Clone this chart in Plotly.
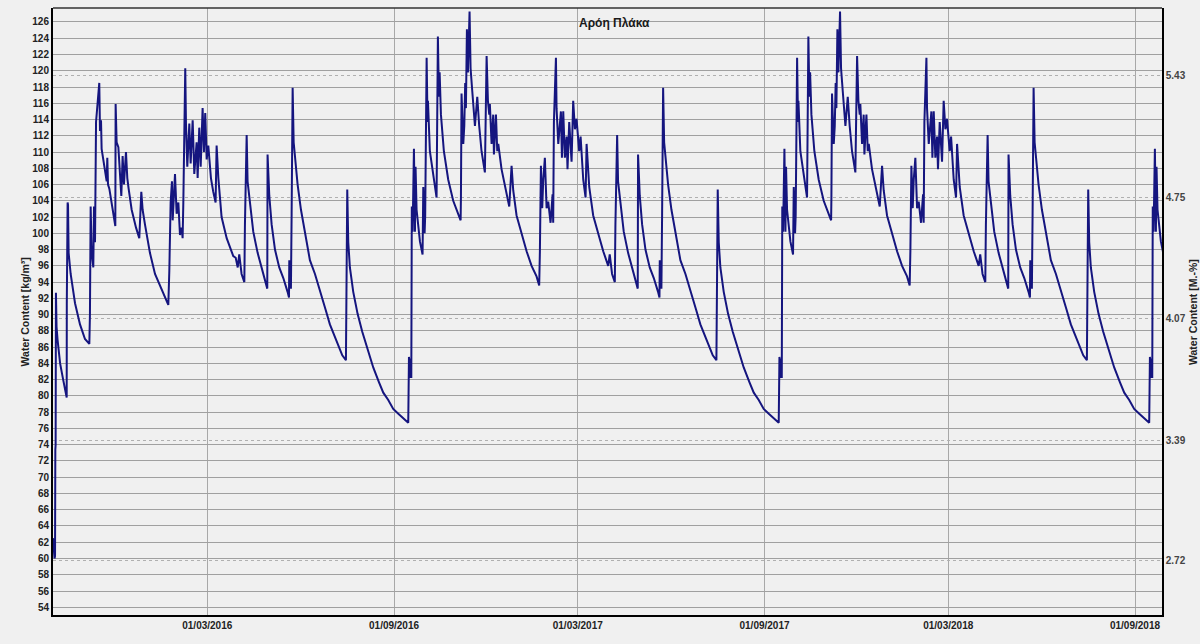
import pandas as pd
import plotly.graph_objects as go

# ---------------- data ----------------
start_date = pd.Timestamp("2015-10-01")
density_factor = 0.04548  # kg/m3 -> M.-%

# days since start_date, water content [kg/m3]
winter_2015_days = [0, 1.5, 2.0, 2.3, 2.6, 2.9, 3.5, 4.5, 7, 10, 13, 13.5,
                    13.6, 14.4, 14.8, 15.4, 17.4, 21.7, 26.6, 31.5, 35.8,
                    36.4, 37.1, 38.1, 39.7, 40.4, 41.4, 42.4, 44.0, 45.6, 46.3, 47.3, 47.9, 50.6, 52.9, 53.5, 54.2, 55.5, 58.4, 59.4, 61.4,
                    61.7, 62.7, 64.4, 65.3, 67.3, 68.6, 69.9, 71.9, 73.2, 74.5,
                    77.5, 81.8, 85.0, 87.0, 88.3, 90.6,
                    95.5, 100.5, 105.4, 110.3, 113.6,
                    114.6, 115.9, 117.2, 117.9, 120.2, 121.8, 123.5, 125.1, 126.7, 127.7, 128.4, 129.4, 130.3, 131.0, 132.3, 134.3, 135.6,
                    137.6, 139.2, 141.5, 142.5, 144.1, 145.5, 147.4, 148.7, 150.0, 151.4, 153.0, 155.6, 157.9, 160.2, 161.2, 162.9,
                    166.1, 171.1, 177.6, 180.0, 182.0]
winter_2015_vals = [62.5, 60.0, 60.3, 73.4, 74.0, 92.7, 88.5, 86.9, 84.0, 82.0, 80.0, 79.8,
                    91.4, 103.8, 103.5, 97.6, 95.0, 91.4, 88.8, 87.0, 86.4,
                    90.1, 103.3, 97.6, 95.8, 103.3, 98.9, 113.7, 116.0, 118.5, 112.6, 113.9, 110.4, 108.2, 106.4, 109.3, 106.0, 105.5, 103.3, 102.4, 100.9,
                    115.9, 111.2, 110.6, 108.2, 104.6, 109.5, 106.0, 110.0, 106.8, 105.5,
                    102.9, 100.7, 99.4, 105.1, 102.9, 101.1,
                    97.6, 95.0, 93.6, 92.3, 91.2,
                    95.4, 103.8, 106.4, 101.6, 107.3, 102.4, 103.8, 99.8, 100.7, 99.4, 103.8, 112.1, 120.3, 113.5, 108.2, 113.5, 108.6,
                    113.9, 107.3, 111.2, 106.8, 113.0, 108.2, 115.4, 110.0, 114.8, 109.1, 110.8, 106.8, 105.1, 103.8, 110.8, 106.8,
                    102.0, 99.4, 97.2, 97.0, 95.8]

spring_2016_days = [183.5, 185.8, 188.5, 189.1, 190.1, 190.8, 191.7, 194.0, 197.3, 201.6, 205.5, 209.5, 211.1,
                    211.4, 213.1, 215.4, 218.7, 222.9, 226.9, 231.1, 232.5,
                    232.8, 234.4, 235.1, 236.1, 237.1, 238.4, 241.0, 244.3, 248.2, 253.1, 258.1, 263.0, 268.6, 272.8, 276.8, 281.1, 285.0, 288.6,
                    289.3, 289.9, 290.9, 292.5, 295.8, 300.1, 304.7, 310.0, 315.5, 321.1, 325.4, 330.3, 335.2, 340.2, 345.1, 350.0]
spring_2016_vals = [97.4, 95.0, 94.0, 101.1, 109.5, 112.1, 106.4, 103.8, 100.2, 97.6, 95.8, 94.1, 93.2,
                    109.7, 104.6, 101.1, 98.0, 95.8, 94.5, 92.8, 92.1,
                    96.7, 93.2, 102.4, 117.9, 111.2, 109.1, 106.0, 102.9, 100.2, 96.7, 95.0, 92.8, 90.6, 88.8, 87.5, 86.1, 85.0, 84.4,
                    98.4, 105.4, 98.9, 95.8, 92.8, 90.1, 87.9, 85.7, 83.5, 81.7, 80.4, 79.5, 78.4, 77.8, 77.3, 76.7]

winter_2016_days = [350.7, 351.5, 352.3, 353.0, 353.5, 354.3, 355.6, 356.6, 357.2, 358.2, 361.5, 364.1,
                    364.8, 366.1, 366.7, 368.1, 369.0, 369.4, 371.3, 374.0, 377.9, 379.2, 380.2, 380.9, 382.2, 385.1, 389.4, 394.3, 399.3, 401.6,
                    401.9, 402.5, 404.2, 405.2, 406.1, 406.8, 407.8, 408.8, 410.4, 411.4, 413.0, 415.7, 418.0, 419.0, 419.9, 422.2, 425.5,
                    427.2, 428.5, 429.8, 430.4, 432.1, 433.7, 434.4, 436.4, 437.7, 438.7,
                    441.9, 446.2, 449.5, 451.8, 453.4, 456.7, 461.6, 466.6, 471.5, 476.4, 479.0,
                    479.7, 480.7, 482.0, 483.0, 484.6, 486.3, 487.9, 490.2, 492.2, 492.8, 493.5, 494.5, 495.5, 496.1, 497.8,
                    500.4, 501.4, 502.7, 504.3, 506.0, 506.9, 508.6, 510.9, 512.5, 514.2, 515.8, 518.4, 519.8, 522.4, 524.7, 525.7,
                    528.3, 532.2, 537.1, 542.1, 547.0]
winter_2016_vals = [84.8, 82.2, 84.6, 82.2, 103.3, 100.2, 110.4, 100.2, 108.2, 102.9, 99.0, 97.4,
                    105.7, 100.0, 102.2, 121.6, 113.7, 116.3, 110.1, 107.9, 104.4, 124.2, 116.8, 119.8, 114.6, 110.1, 106.6, 104.0, 102.2, 101.6,
                    104.4, 117.2, 111.0, 113.2, 118.5, 115.4, 125.1, 119.8, 127.3, 120.3, 117.6, 113.2, 116.8, 114.1, 113.2, 110.1, 107.5,
                    121.8, 116.3, 114.6, 115.9, 111.0, 114.6, 109.7, 114.6, 110.1, 111.0,
                    107.9, 105.3, 103.3, 108.3, 105.3, 102.2, 100.0, 97.8, 96.0, 94.7, 93.6,
                    97.8, 108.3, 103.1, 106.6, 109.3, 103.1, 103.9, 101.3, 104.8, 101.3, 113.7, 117.6, 121.6, 115.4, 111.0,
                    115.0, 109.3, 115.0, 109.3, 111.9, 107.9, 113.7, 108.8, 116.3, 112.8, 114.1, 110.1, 111.9, 106.6, 104.4, 111.0,
                    105.7, 102.2, 100.0, 97.8, 96.0]

spring_2017_days = [548.5, 550.8, 553.5, 554.1, 555.1, 555.8, 556.7, 559.0, 562.3, 566.6, 570.5, 574.5, 576.1,
                    576.4, 578.1, 580.4, 583.7, 587.9, 591.9, 596.1, 597.5,
                    597.8, 599.4, 600.1, 601.1, 602.1, 603.4, 606.0, 609.3, 613.2, 618.1, 623.1, 628.0, 633.6, 637.8, 641.8, 646.1, 650.0, 653.6,
                    654.3, 654.9, 655.9, 657.5, 660.8, 665.1, 669.7, 675.0, 680.5, 686.1, 690.4, 695.3, 700.2, 705.2, 710.1, 715.0]
spring_2017_vals = [97.4, 95.0, 94.0, 101.1, 109.5, 112.1, 106.4, 103.8, 100.2, 97.6, 95.8, 94.1, 93.2,
                    109.7, 104.6, 101.1, 98.0, 95.8, 94.5, 92.8, 92.1,
                    96.7, 93.2, 102.4, 117.9, 111.2, 109.1, 106.0, 102.9, 100.2, 96.7, 95.0, 92.8, 90.6, 88.8, 87.5, 86.1, 85.0, 84.4,
                    98.4, 105.4, 98.9, 95.8, 92.8, 90.1, 87.9, 85.7, 83.5, 81.7, 80.4, 79.5, 78.4, 77.8, 77.3, 76.7]

winter_2017_days = [715.7, 716.5, 717.3, 718.0, 718.5, 719.3, 720.6, 721.6, 722.2, 723.2, 726.5, 729.1,
                    729.8, 731.1, 731.7, 733.1, 734.0, 734.4, 736.3, 739.0, 742.9, 744.2, 745.2, 745.9, 747.2, 750.1, 754.4, 759.3, 764.3, 766.6,
                    766.9, 767.5, 769.2, 770.2, 771.1, 771.8, 772.8, 773.8, 775.4, 776.4, 778.0, 780.7, 783.0, 784.0, 784.9, 787.2, 790.5,
                    792.2, 793.5, 794.8, 795.4, 797.1, 798.7, 799.4, 801.4, 802.7, 803.7,
                    806.9, 811.2, 814.5, 816.8, 818.4, 821.7, 826.6, 831.6, 836.5, 841.4, 844.0,
                    844.7, 845.7, 847.0, 848.0, 849.6, 851.3, 852.9, 855.2, 857.2, 857.8, 858.5, 859.5, 860.5, 861.1, 862.8,
                    865.4, 866.4, 867.7, 869.3, 871.0, 871.9, 873.6, 875.9, 877.5, 879.2, 880.8, 883.4, 884.8, 887.4, 889.7, 890.7,
                    893.3, 897.2, 902.1, 907.1, 912.0]
winter_2017_vals = [84.8, 82.2, 84.6, 82.2, 103.3, 100.2, 110.4, 100.2, 108.2, 102.9, 99.0, 97.4,
                    105.7, 100.0, 102.2, 121.6, 113.7, 116.3, 110.1, 107.9, 104.4, 124.2, 116.8, 119.8, 114.6, 110.1, 106.6, 104.0, 102.2, 101.6,
                    104.4, 117.2, 111.0, 113.2, 118.5, 115.4, 125.1, 119.8, 127.3, 120.3, 117.6, 113.2, 116.8, 114.1, 113.2, 110.1, 107.5,
                    121.8, 116.3, 114.6, 115.9, 111.0, 114.6, 109.7, 114.6, 110.1, 111.0,
                    107.9, 105.3, 103.3, 108.3, 105.3, 102.2, 100.0, 97.8, 96.0, 94.7, 93.6,
                    97.8, 108.3, 103.1, 106.6, 109.3, 103.1, 103.9, 101.3, 104.8, 101.3, 113.7, 117.6, 121.6, 115.4, 111.0,
                    115.0, 109.3, 115.0, 109.3, 111.9, 107.9, 113.7, 108.8, 116.3, 112.8, 114.1, 110.1, 111.9, 106.6, 104.4, 111.0,
                    105.7, 102.2, 100.0, 97.8, 96.0]

spring_2018_days = [913.5, 915.8, 918.5, 919.1, 920.1, 920.8, 921.7, 924.0, 927.3, 931.6, 935.5, 939.5, 941.1,
                    941.4, 943.1, 945.4, 948.7, 952.9, 956.9, 961.1, 962.5,
                    962.8, 964.4, 965.1, 966.1, 967.1, 968.4, 971.0, 974.3, 978.2, 983.1, 988.1, 993.0, 998.6, 1002.8, 1006.8, 1011.1, 1015.0, 1018.6,
                    1019.3, 1019.9, 1020.9, 1022.5, 1025.8, 1030.1, 1034.7, 1040.0, 1045.5, 1051.1, 1055.4, 1060.3, 1065.2, 1070.2, 1075.1, 1080.0]
spring_2018_vals = [97.4, 95.0, 94.0, 101.1, 109.5, 112.1, 106.4, 103.8, 100.2, 97.6, 95.8, 94.1, 93.2,
                    109.7, 104.6, 101.1, 98.0, 95.8, 94.5, 92.8, 92.1,
                    96.7, 93.2, 102.4, 117.9, 111.2, 109.1, 106.0, 102.9, 100.2, 96.7, 95.0, 92.8, 90.6, 88.8, 87.5, 86.1, 85.0, 84.4,
                    98.4, 105.4, 98.9, 95.8, 92.8, 90.1, 87.9, 85.7, 83.5, 81.7, 80.4, 79.5, 78.4, 77.8, 77.3, 76.7]

autumn_2018_days = [1080.7, 1081.5, 1082.3, 1083.0, 1083.5, 1084.3, 1085.6, 1086.6, 1087.2, 1088.2, 1091.5, 1094.1]
autumn_2018_vals = [84.8, 82.2, 84.6, 82.2, 103.3, 100.2, 110.4, 100.2, 108.2, 102.9, 99.0, 97.4]

x_tick_dates = ["2016-03-01", "2016-09-01", "2017-03-01", "2017-09-01", "2018-03-01", "2018-09-01"]
x_tick_labels = ["01/03/2016", "01/09/2016", "01/03/2017", "01/09/2017", "01/03/2018", "01/09/2018"]
right_tick_vals = [2.72, 3.39, 4.07, 4.75, 5.43]
right_tick_labels = ["2.72", "3.39", "4.07", "4.75", "5.43"]

y_range = [53.05, 127.72]
x_range_days = 1092.6

title_text = "Αρόη Πλάκα"
left_title = "Water Content [kg/m³]"
right_title = "Water Content [M.-%]"

# ---------------- build ----------------
segments = [
    (winter_2015_days, winter_2015_vals),
    (spring_2016_days, spring_2016_vals),
    (winter_2016_days, winter_2016_vals),
    (spring_2017_days, spring_2017_vals),
    (winter_2017_days, winter_2017_vals),
    (spring_2018_days, spring_2018_vals),
    (autumn_2018_days, autumn_2018_vals),
]
days, vals = [], []
for d, v in segments:
    days += d
    vals += v

x = start_date + pd.to_timedelta(days, unit="D")

FONT = "Arial, Liberation Sans, sans-serif"
fig = go.Figure()
fig.add_trace(go.Scatter(x=x, y=vals, mode="lines",
                         line=dict(color="#15157f", width=2),
                         showlegend=False, hoverinfo="skip"))
fig.add_trace(go.Scatter(x=x, y=[v * density_factor for v in vals], yaxis="y2",
                         mode="lines", line=dict(color="rgba(0,0,0,0)", width=0),
                         showlegend=False, hoverinfo="skip"))

fig.update_layout(
    width=1200, height=644,
    margin=dict(l=53, r=38, t=8, b=29, autoexpand=False),
    paper_bgcolor="#f0f0f0", plot_bgcolor="#f0f0f0",
    xaxis=dict(type="date",
               range=[start_date, start_date + pd.Timedelta(days=x_range_days)],
               tickvals=x_tick_dates, ticktext=x_tick_labels,
               showgrid=True, gridcolor="#a8a8a8", gridwidth=1,
               showline=True, linecolor="#000000", linewidth=2,
               ticks="", zeroline=False, automargin=False,
               tickfont=dict(family=FONT, size=10, color="#222222", weight="bold")),
    yaxis=dict(range=y_range, dtick=2, tick0=0,
               showgrid=True, gridcolor="#a0a0a0", gridwidth=1,
               showline=True, linecolor="#000000", linewidth=2,
               ticks="", zeroline=False, automargin=False,
               tickfont=dict(family=FONT, size=10, color="#222222", weight="bold")),
    yaxis2=dict(overlaying="y", side="right",
                range=[y_range[0] * density_factor, y_range[1] * density_factor],
                tickvals=right_tick_vals, ticktext=right_tick_labels,
                showgrid=True, gridcolor="#b0b0b0", gridwidth=1, griddash="dot",
                showline=True, linecolor="#000000", linewidth=1.5,
                ticks="", zeroline=False, automargin=False,
                tickfont=dict(family=FONT, size=10, color="#444444", weight="bold")),
    shapes=[dict(type="line", xref="paper", yref="paper", x0=0, x1=1, y0=1, y1=1,
                 line=dict(color="#333333", width=1.5))],
    annotations=[
        dict(text=title_text, xref="paper", yref="paper", x=0.506, y=0.976,
             xanchor="center", yanchor="middle", showarrow=False,
             font=dict(family=FONT, size=12, color="#1a1a1a", weight="bold")),
        dict(text=left_title, xref="paper", yref="paper", x=-0.0253, y=0.5,
             xanchor="center", yanchor="middle", textangle=-90, showarrow=False,
             font=dict(family=FONT, size=10.5, color="#222222", weight="bold")),
        dict(text=right_title, xref="paper", yref="paper", x=1.0275, y=0.5,
             xanchor="center", yanchor="middle", textangle=-90, showarrow=False,
             font=dict(family=FONT, size=10.5, color="#222222", weight="bold")),
    ],
)

# remove the default page margin so the 1200x644 figure fills the window exactly
fig.write_html("out.html",
               config={"displayModeBar": False},
               post_script="document.body.style.margin='0';document.body.style.overflow='hidden';")
